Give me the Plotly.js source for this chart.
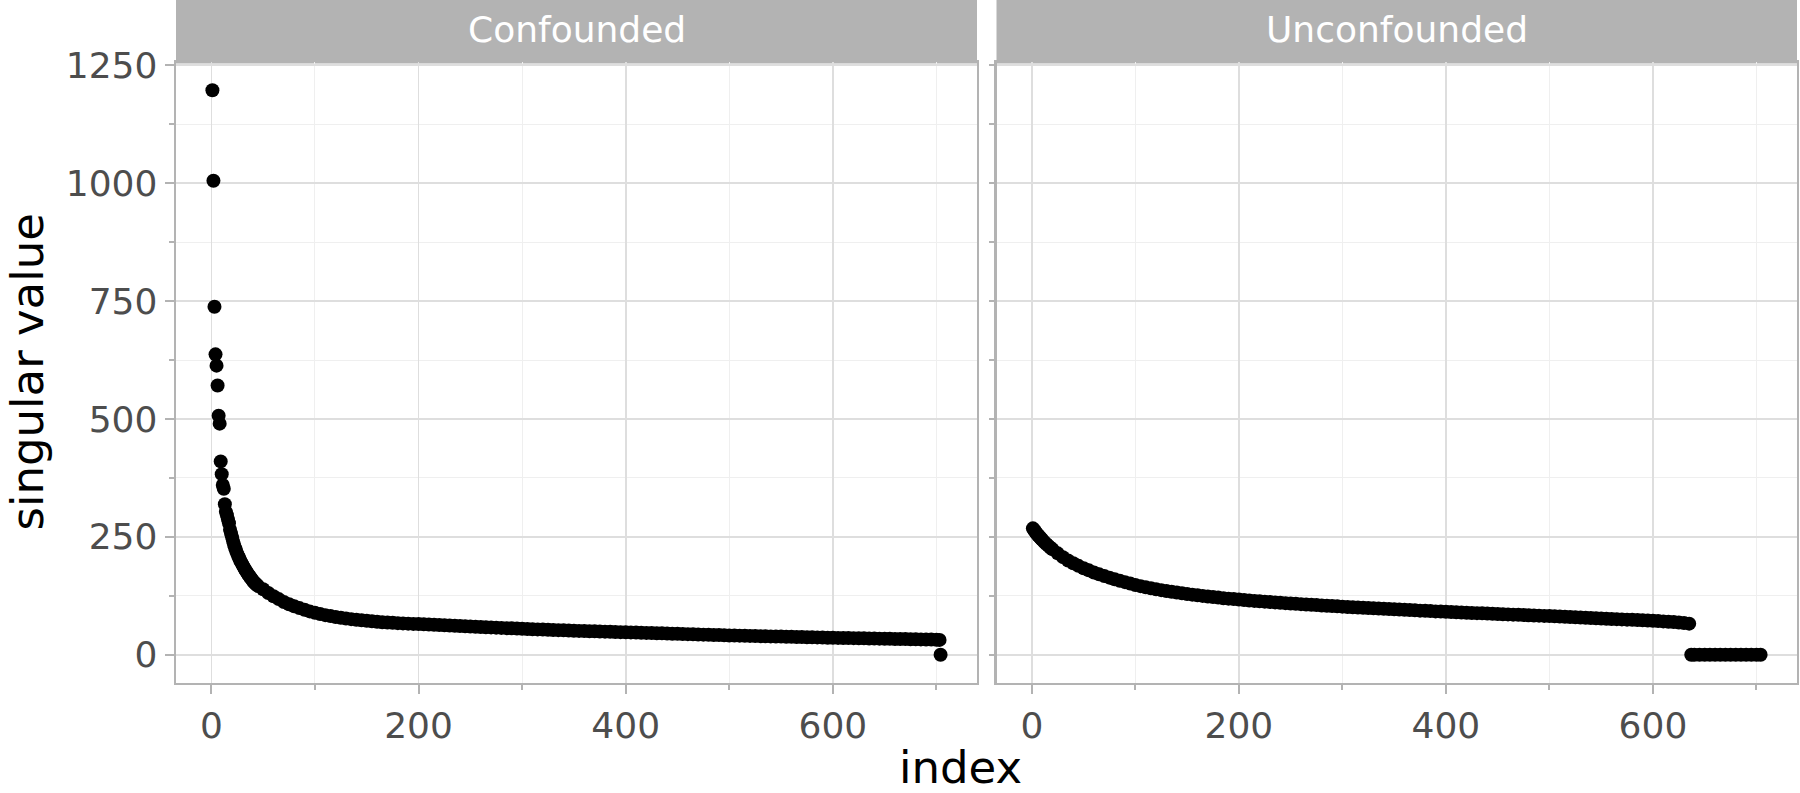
<!DOCTYPE html>
<html>
<head>
<meta charset="utf-8">
<script src="https://cdn.plot.ly/plotly-3.0.1.min.js"></script>
<style>html,body{margin:0;padding:0;background:#fff;}#chart{width:1800px;height:793px;}</style>
</head>
<body>
<div id="chart"></div>
<script>
// ---- Data ----
const panelNames = ["Confounded", "Unconfounded"];

const confIndex = [1,2,3,4,5,6,7,8,9,10,11,12,13,14,15,16,17,18,19,20,21,22,23,24,25,26,27,28,29,30,31,32,33,34,35,36,37,38,39,40,41,42,43,44,
  45,50,55,60,65,70,75,80,85,90,95,100,105,110,115,120,125,130,135,140,145,150,155,160,165,170,175,180,185,190,195,200,
  205,210,215,220,225,230,235,240,245,250,255,260,265,270,275,280,285,290,295,300,
  305,310,315,320,325,330,335,340,345,350,355,360,365,
  370,375,380,385,390,395,400,405,410,415,420,425,430,435,440,445,450,455,460,465,470,475,480,485,490,495,500,
  505,510,515,520,525,530,535,540,545,550,555,560,565,570,575,580,585,590,595,600,
  605,610,615,620,625,630,635,640,645,650,655,660,665,670,675,680,685,690,695,700,703,704];
const confValue = [1197,1005,738,637,613,571,507,490,410,383,360,352,319,303,296,287,279,265,257,249,240,233,226,220,214,209,204,199,195,191,187,183,179,176,172,169,166,163,160,157,154,152,150,148,
  146,139,131,124,118,112,107,103,99,95.5,92,89,86.5,84,82,80,78.5,77,75.5,74,73,72,71,70,69,68.5,68,67,66.5,66,65.5,65,
  64.5,64,63.5,63,62.5,62,61.5,61,60.5,60,59.5,59,58.5,58,57.5,57,56.5,56,55.5,55,
  54.6,54.2,53.8,53.4,53,52.6,52.2,51.8,51.4,51,50.6,50.3,50,
  49.7,49.3,49,48.7,48.4,48,47.7,47.4,47,46.7,46.4,46,45.7,45.4,45,44.7,44.4,44,43.7,43.4,43,42.7,42.4,42,41.7,41.4,41,
  40.8,40.5,40.2,40,39.8,39.5,39.2,39,38.8,38.5,38.2,38,37.8,37.5,37.2,37,36.8,36.5,36.2,36,
  35.8,35.6,35.4,35.2,35,34.8,34.6,34.4,34.2,34,33.8,33.6,33.4,33.2,33,32.8,32.6,32.4,32.2,32,31.5,0];

const unconfIndex = [1,2,3,4,5,6,7,8,9,10,12,14,16,18,20,
  25,30,35,40,45,50,55,60,65,70,75,80,85,90,95,100,
  105,110,115,120,125,130,135,140,145,150,155,160,165,170,175,180,185,190,195,200,
  205,210,215,220,225,230,235,240,245,250,255,260,265,270,275,280,285,290,295,300,
  305,310,315,320,325,330,335,340,345,350,355,360,365,370,375,380,385,390,395,400,
  405,410,415,420,425,430,435,440,445,450,455,460,465,470,475,480,485,490,495,500,
  505,510,515,520,525,530,535,540,545,550,555,560,565,570,575,580,585,590,595,600,
  605,610,615,620,625,630,635,
  637,640,645,650,655,660,665,670,675,680,685,690,695,700,704];
const unconfValue = [268,265,262,259,256,253.5,251,248.5,246,244,239,235,231,227,223.5,
  215,207,200,194,188.5,183.5,179,174.5,170.5,167,163.5,160,157,154,151,148,
  145.5,143,141,139,137,135,133.5,132,130.5,129,127.5,126,124.8,123.6,122.4,121.2,120,119,118,117,
  116,115,114.2,113.4,112.6,111.8,111,110.2,109.5,108.8,108,107.3,106.6,106,105.3,104.6,104,103.3,102.7,102,
  101.4,100.8,100.2,99.6,99,98.5,98,97.4,96.8,96.3,95.8,95.2,94.7,94.2,93.6,93.1,92.6,92,91.5,91,
  90.5,90.1,89.6,89.2,88.7,88.3,87.8,87.4,86.9,86.5,86,85.6,85.1,84.7,84.2,83.8,83.3,82.9,82.4,82,
  81.5,81,80.5,80,79.5,79,78.5,78,77.5,77,76.5,76,75.5,75,74.5,74,73.5,73,72.5,72,
  71.4,70.8,70.1,69.3,68.5,67.5,66,
  0,0,0,0,0,0,0,0,0,0,0,0,0,0,0];

const xTickVals = [0, 200, 400, 600];
const yTickVals = [0, 250, 500, 750, 1000, 1250];

// ---- Styling ----
const FONT = "DejaVu Sans";
const GRID = "#dedede", MINOR = "#efefef", BORDER = "#b3b3b3", TICKTXT = "#4d4d4d";
const plotTop = 62, plotBottom = 683, H = 793;
const plotH = plotBottom - plotTop;

function xAxis(domain, anchor) {
  return {
    domain: domain, anchor: anchor, range: [-34.15, 739.15],
    tickmode: "array", tickvals: xTickVals,
    ticks: "outside", ticklen: 9, tickwidth: 2, tickcolor: BORDER,
    showline: true, mirror: true, linecolor: BORDER, linewidth: 2.4,
    showgrid: true, gridcolor: GRID, gridwidth: 1.7, zeroline: false,
    minor: {tick0: 0, dtick: 100, showgrid: true, gridcolor: MINOR, gridwidth: 1,
            ticks: "outside", ticklen: 5, tickwidth: 2, tickcolor: BORDER},
    tickfont: {family: FONT, size: 36, color: TICKTXT}
  };
}
function yAxis(anchor, labels) {
  return {
    anchor: anchor, domain: [0, 1], range: [-59.85, 1256.85],
    tickmode: "array", tickvals: yTickVals,
    ticks: labels ? "outside" : "", ticklen: 9, tickwidth: 2, tickcolor: BORDER,
    showticklabels: labels,
    showline: true, mirror: true, linecolor: BORDER, linewidth: 2.4,
    showgrid: true, gridcolor: GRID, gridwidth: 1.7, zeroline: false,
    minor: {tick0: 0, dtick: 125, showgrid: true, gridcolor: MINOR, gridwidth: 1,
            ticks: "outside", ticklen: 5, tickwidth: 2, tickcolor: BORDER},
    tickfont: {family: FONT, size: 36, color: TICKTXT}
  };
}

const marker = {color: "#000000", size: 14, line: {width: 0}};
const traces = [
  {type: "scatter", mode: "markers", x: confIndex, y: confValue, xaxis: "x", yaxis: "y", marker: marker, hoverinfo: "x+y"},
  {type: "scatter", mode: "markers", x: unconfIndex, y: unconfValue, xaxis: "x2", yaxis: "y2", marker: marker, hoverinfo: "x+y"}
];

const stripBottom = 1 - 1.5 / plotH, stripTop = 1 + plotTop / plotH;
const shapes = ["x", "x2"].map(function (ax) {
  return {type: "rect", xref: ax + " domain", yref: "paper", x0: 0, x1: 1, y0: stripBottom, y1: stripTop,
          fillcolor: BORDER, line: {width: 0}, layer: "below"};
});
const annotations = [
  {text: panelNames[0], xref: "x domain", yref: "paper", x: 0.5, y: 1 + (plotTop - 30) / plotH,
   xanchor: "center", yanchor: "middle", showarrow: false, font: {family: FONT, size: 36, color: "#ffffff"}},
  {text: panelNames[1], xref: "x2 domain", yref: "paper", x: 0.5, y: 1 + (plotTop - 30) / plotH,
   xanchor: "center", yanchor: "middle", showarrow: false, font: {family: FONT, size: 36, color: "#ffffff"}},
  {text: "index", xref: "paper", yref: "paper", x: (960 - 176) / 1621, y: (plotBottom - 767) / plotH,
   xanchor: "center", yanchor: "middle", showarrow: false, font: {family: FONT, size: 45, color: "#000000"}},
  {text: "singular value", xref: "paper", yref: "paper", x: (27 - 176) / 1621, y: 0.5, textangle: -90,
   xanchor: "center", yanchor: "middle", showarrow: false, font: {family: FONT, size: 45, color: "#000000"}}
];

const layout = {
  width: 1800, height: H,
  margin: {l: 176, r: 3, t: plotTop, b: H - plotBottom},
  paper_bgcolor: "#ffffff", plot_bgcolor: "#ffffff",
  showlegend: false,
  font: {family: FONT},
  xaxis: xAxis([0, 0.49414], "y"),
  xaxis2: xAxis([0.50617, 1], "y2"),
  yaxis: yAxis("x", true),
  yaxis2: yAxis("x2", false),
  shapes: shapes,
  annotations: annotations
};

Plotly.newPlot("chart", traces, layout, {staticPlot: true, displayModeBar: false});
</script>
</body>
</html>
